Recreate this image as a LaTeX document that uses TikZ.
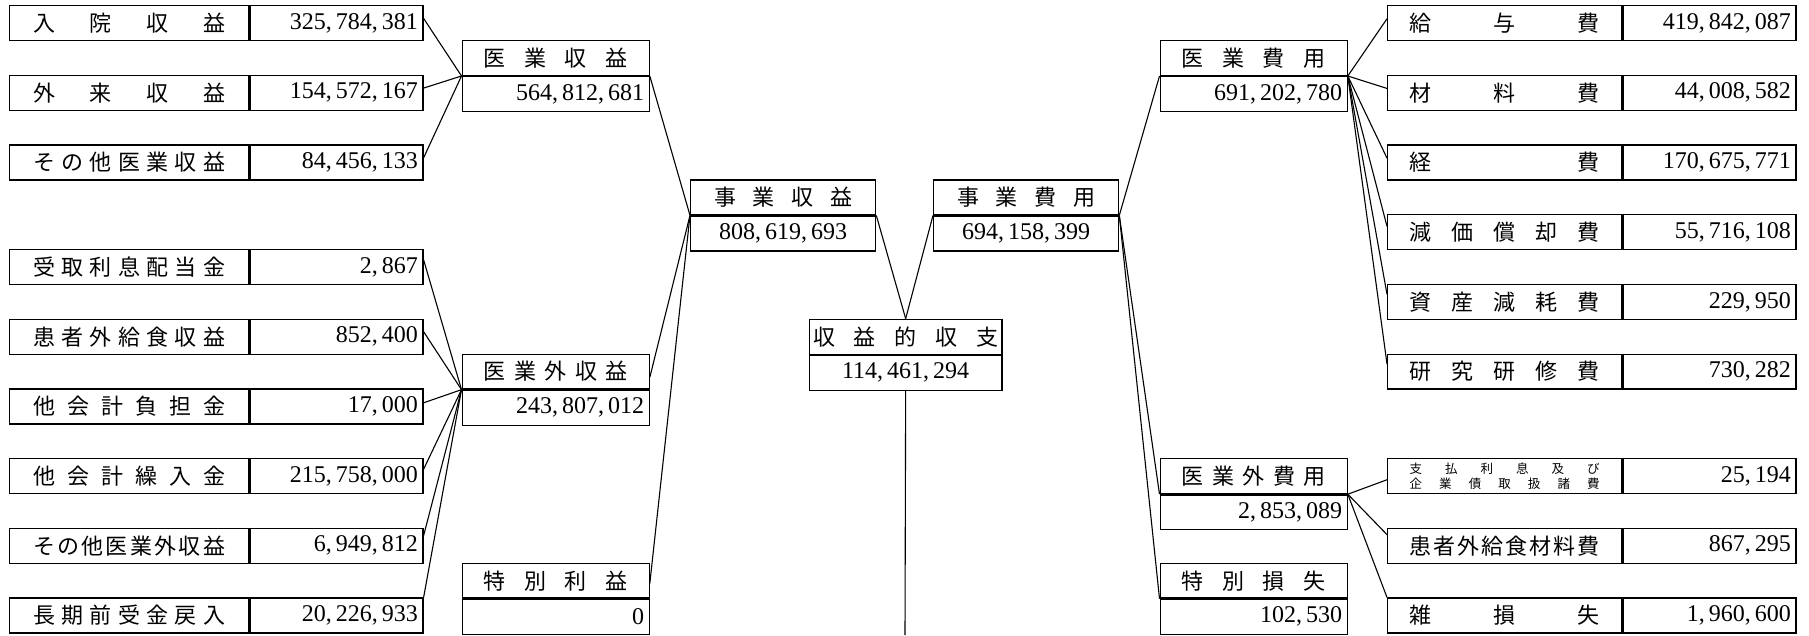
\documentclass[tikz,border=0pt]{standalone}
\usepackage{fontspec}
\setmainfont{Liberation Serif}
\newfontfamily\jpfont{Noto Sans CJK JP}
\usepackage{tikz}
\usetikzlibrary{positioning, calc}
\newcommand{\spreadto}[2]{\makebox[#1pt]{#2}}

\begin{document}
\begin{tikzpicture}[x=1pt, y=-1pt,
    box/.style={draw, line width=1.3pt, inner sep=0pt, minimum height=34.85pt},
    item/.style={box, minimum width=239pt, font=\jpfont\fontsize{22}{26}\selectfont},
    itemr/.style={item, minimum width=234pt},
    amt/.style={box, text width=163pt, align=right, inner xsep=5pt, font=\fontsize{24}{28}\selectfont},
    head/.style={box, minimum width=187pt, font=\jpfont\fontsize{22}{26}\selectfont},
    sum/.style={box, text width=177pt, align=right, inner xsep=5pt, font=\fontsize{24}{28}\selectfont},
    mid/.style={box, minimum width=185pt, font=\jpfont\fontsize{22}{26}\selectfont},
    midv/.style={box, minimum width=185pt, font=\fontsize{24}{28}\selectfont},
    link/.style={line width=1.1pt}]
  \useasboundingbox (0,0) rectangle (1809,635);

  % Revenue items (left)
  \node[item, anchor=north west] (nyuin) at (9,5) {\spreadto{192}{入\hfill 院\hfill 収\hfill 益}};
  \node[amt, right=0pt of nyuin] (nyuin-v) {325,\,784,\,381};
  \node[item, anchor=north west] (gairai) at (9,74.7) {\spreadto{192}{外\hfill 来\hfill 収\hfill 益}};
  \node[amt, right=0pt of gairai] (gairai-v) {154,\,572,\,167};
  \node[item, anchor=north west] (sonota) at (9,144.4) {\spreadto{192}{そ\hfill の\hfill 他\hfill 医\hfill 業\hfill 収\hfill 益}};
  \node[amt, right=0pt of sonota] (sonota-v) {84,\,456,\,133};

  \node[item, anchor=north west] (uketori) at (9,248.95) {\spreadto{192}{受\hfill 取\hfill 利\hfill 息\hfill 配\hfill 当\hfill 金}};
  \node[amt, right=0pt of uketori] (uketori-v) {2,\,867};
  \node[item, anchor=north west] (kanja) at (9,318.65) {\spreadto{192}{患\hfill 者\hfill 外\hfill 給\hfill 食\hfill 収\hfill 益}};
  \node[amt, right=0pt of kanja] (kanja-v) {852,\,400};
  \node[item, anchor=north west] (futan) at (9,388.35) {\spreadto{192}{他\hfill 会\hfill 計\hfill 負\hfill 担\hfill 金}};
  \node[amt, right=0pt of futan] (futan-v) {17,\,000};
  \node[item, anchor=north west] (kurii) at (9,458.05) {\spreadto{192}{他\hfill 会\hfill 計\hfill 繰\hfill 入\hfill 金}};
  \node[amt, right=0pt of kurii] (kurii-v) {215,\,758,\,000};
  \node[item, anchor=north west] (gaisonota) at (9,527.75) {\spreadto{192}{そ\hfill の\hfill 他\hfill 医\hfill 業\hfill 外\hfill 収\hfill 益}};
  \node[amt, right=0pt of gaisonota] (gaisonota-v) {6,\,949,\,812};
  \node[item, anchor=north west] (choki) at (9,597.45) {\spreadto{192}{長\hfill 期\hfill 前\hfill 受\hfill 金\hfill 戻\hfill 入}};
  \node[amt, right=0pt of choki] (choki-v) {20,\,226,\,933};

  % Revenue groups
  \node[head, anchor=north west] (igyo) at (461.5,39.85) {\spreadto{144}{医\hfill 業\hfill 収\hfill 益}};
  \node[sum, below=0pt of igyo] (igyo-v) {564,\,812,\,681};
  \node[head, anchor=north west] (igyogai) at (461.5,353.5) {\spreadto{144}{医\hfill 業\hfill 外\hfill 収\hfill 益}};
  \node[sum, below=0pt of igyogai] (igyogai-v) {243,\,807,\,012};
  \node[head, anchor=north west] (tokueki) at (461.5,562.6) {\spreadto{144}{特\hfill 別\hfill 利\hfill 益}};
  \node[sum, below=0pt of tokueki] (tokueki-v) {0};

  % Totals
  \node[mid, anchor=north west] (jsueki) at (690,179.25) {\spreadto{138}{事\hfill 業\hfill 収\hfill 益}};
  \node[midv, below=0pt of jsueki] (jsueki-v) {808,\,619,\,693};
  \node[mid, anchor=north west] (jhiyo) at (933,179.25) {\spreadto{138}{事\hfill 業\hfill 費\hfill 用}};
  \node[midv, below=0pt of jhiyo] (jhiyo-v) {694,\,158,\,399};
  \node[mid, minimum width=192.5pt, anchor=north west] (shushi) at (808.75,318.65) {\spreadto{185}{収\hfill 益\hfill 的\hfill 収\hfill 支}};
  \node[midv, minimum width=192.5pt, below=0pt of shushi] (shushi-v) {114,\,461,\,294};
  \coordinate (bot) at (905,635);

  % Expense groups
  \node[head, anchor=north west] (ihiyo) at (1159.5,39.85) {\spreadto{144}{医\hfill 業\hfill 費\hfill 用}};
  \node[sum, below=0pt of ihiyo] (ihiyo-v) {691,\,202,\,780};
  \node[head, anchor=north west] (ihiyogai) at (1159.5,458.05) {\spreadto{144}{医\hfill 業\hfill 外\hfill 費\hfill 用}};
  \node[sum, below=0pt of ihiyogai] (ihiyogai-v) {2,\,853,\,089};
  \node[head, anchor=north west] (tokuson) at (1159.5,562.6) {\spreadto{144}{特\hfill 別\hfill 損\hfill 失}};
  \node[sum, below=0pt of tokuson] (tokuson-v) {102,\,530};

  % Expense items (right)
  \node[itemr, anchor=north west] (kyuyo) at (1387,5) {\spreadto{190}{給\hfill 与\hfill 費}};
  \node[amt, right=0pt of kyuyo] (kyuyo-v) {419,\,842,\,087};
  \node[itemr, anchor=north west] (zairyo) at (1387,74.7) {\spreadto{190}{材\hfill 料\hfill 費}};
  \node[amt, right=0pt of zairyo] (zairyo-v) {44,\,008,\,582};
  \node[itemr, anchor=north west] (keihi) at (1387,144.4) {\spreadto{190}{経\hfill 費}};
  \node[amt, right=0pt of keihi] (keihi-v) {170,\,675,\,771};
  \node[itemr, anchor=north west] (genka) at (1387,214.1) {\spreadto{190}{減\hfill 価\hfill 償\hfill 却\hfill 費}};
  \node[amt, right=0pt of genka] (genka-v) {55,\,716,\,108};
  \node[itemr, anchor=north west] (shisan) at (1387,283.8) {\spreadto{190}{資\hfill 産\hfill 減\hfill 耗\hfill 費}};
  \node[amt, right=0pt of shisan] (shisan-v) {229,\,950};
  \node[itemr, anchor=north west] (kenkyu) at (1387,353.5) {\spreadto{190}{研\hfill 究\hfill 研\hfill 修\hfill 費}};
  \node[amt, right=0pt of kenkyu] (kenkyu-v) {730,\,282};

  \node[itemr, align=center, font=\jpfont\fontsize{12.5}{15}\selectfont, anchor=north west] (shiharai) at (1387,458.05)
       {\spreadto{190}{支\hfill 払\hfill 利\hfill 息\hfill 及\hfill び}\\\spreadto{190}{企\hfill 業\hfill 債\hfill 取\hfill 扱\hfill 諸\hfill 費}};
  \node[amt, right=0pt of shiharai] (shiharai-v) {25,\,194};
  \node[itemr, anchor=north west] (kanjazai) at (1387,527.75) {\spreadto{190}{患\hfill 者\hfill 外\hfill 給\hfill 食\hfill 材\hfill 料\hfill 費}};
  \node[amt, right=0pt of kanjazai] (kanjazai-v) {867,\,295};
  \node[itemr, anchor=north west] (zatsu) at (1387,597.45) {\spreadto{190}{雑\hfill 損\hfill 失}};
  \node[amt, right=0pt of zatsu] (zatsu-v) {1,\,960,\,600};

  % Connectors
  \foreach \s/\f in {nyuin/0.37, gairai/0.37, sonota/0.37}
    \draw[link] ($(\s-v.north east)!\f!(\s-v.south east)$) -- (igyo.south west);
  \foreach \s/\f in {uketori/0.3, kanja/0.36, futan/0.4, kurii/0.31, gaisonota/0.22, choki/0}
    \draw[link] ($(\s-v.north east)!\f!(\s-v.south east)$) -- (igyogai.south west);
  \draw[link] (igyo-v.north east) -- (jsueki.south west);
  \draw[link] ($(igyogai.north east)!0.66!(igyogai.south east)$) -- (jsueki.south west);
  \draw[link] ($(tokueki.north east)!0.58!(tokueki.south east)$) -- (jsueki.south west);
  \draw[link] (jsueki.south east) -- (shushi.north);
  \draw[link] (jhiyo.south west) -- (shushi.north);
  \draw[link] (shushi-v.south) -- (bot);
  \foreach \t in {ihiyo, ihiyogai, tokuson}
    \draw[link] (jhiyo.south east) -- (\t.south west);
  \foreach \t/\f in {kyuyo/0.38, zairyo/0.38, keihi/0.38, genka/0.34, shisan/0.29, kenkyu/0.29}
    \draw[link] (ihiyo.south east) -- ($(\t.north west)!\f!(\t.south west)$);
  \foreach \t/\f in {shiharai/0.6, kanjazai/0.19, zatsu/0}
    \draw[link] (ihiyogai.south east) -- ($(\t.north west)!\f!(\t.south west)$);
\end{tikzpicture}
\end{document}
